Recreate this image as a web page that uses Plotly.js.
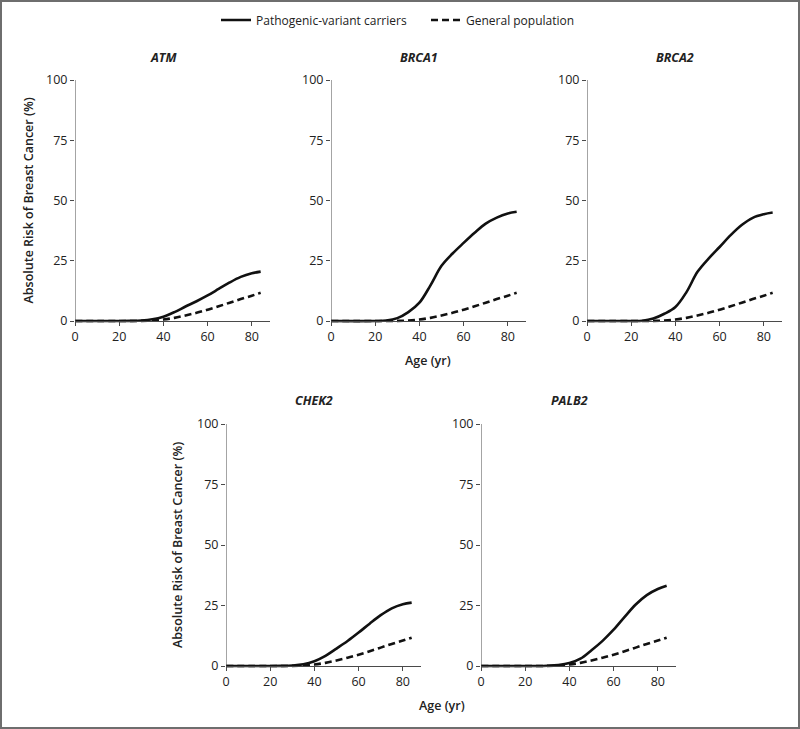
<!DOCTYPE html>
<html>
<head>
<meta charset="utf-8">
<script src="https://cdn.plot.ly/plotly-3.0.1.min.js"></script>
<style>
  html, body { margin: 0; padding: 0; background: #fff; }
  #frame { width: 796px; height: 725px; border: 2px solid #6e6e6e; }
  #chart { width: 796px; height: 725px; }
</style>
</head>
<body>
<div id="frame"><div id="chart"></div></div>
<script>
// ---- Data ----
const ages = [0, 20, 25, 30, 35, 40, 45, 50, 55, 60, 65, 70, 75, 80, 84];
const generalPopulation = [0, 0, 0, 0.05, 0.2, 0.6, 1.3, 2.3, 3.4, 4.7, 6.1, 7.6, 9.1, 10.5, 11.7];
const atm   = [0, 0, 0.05, 0.2, 0.7, 1.8, 3.7, 6.0, 8.2, 10.6, 13.3, 16.0, 18.3, 19.8, 20.5];
const brca1 = [0, 0, 0.2, 1.2, 3.7, 7.6, 14.8, 22.9, 28.0, 32.4, 36.6, 40.4, 42.9, 44.6, 45.3];
const brca2 = [0, 0, 0.1, 1.0, 3.0, 5.8, 12.0, 20.4, 25.9, 30.7, 35.6, 39.8, 42.8, 44.3, 45.0];
const chek2 = [0, 0, 0.05, 0.2, 0.7, 2.0, 4.2, 7.2, 10.3, 13.8, 17.5, 21.0, 23.8, 25.5, 26.2];
const palb2 = [0, 0, 0, 0.1, 0.4, 1.2, 3.0, 6.5, 10.4, 15.0, 20.3, 25.4, 29.3, 31.8, 33.2];

const genes = ["ATM", "BRCA1", "BRCA2", "CHEK2", "PALB2"];
const carrierSeries = [atm, brca1, brca2, chek2, palb2];
const xTicks = [0, 20, 40, 60, 80];
const yTicks = [0, 25, 50, 75, 100];
const legendNames = ["Pathogenic-variant carriers", "General population"];
const yTitle = "Absolute Risk of Breast Cancer (%)";
const xTitle = "Age (yr)";

// ---- Layout geometry (pixels within the 796x725 plot div) ----
const W = 796, H = 725;
const panelLeft = [73, 329, 585, 224, 479];
const panelWidth = 194.5;
const rows = [ {top: 78, zero: 319}, {top: 422, zero: 664} ];
const panelRow = [0, 0, 0, 1, 1];
const yMin = -1;

const FONT = "Open Sans, Noto Sans, sans-serif";
const axisColor = "#4a4a4a";
const textColor = "#222";

const traces = [];
const layout = {
  width: W, height: H,
  margin: {l: 0, r: 0, t: 0, b: 0},
  paper_bgcolor: "#fff", plot_bgcolor: "#fff",
  font: {family: FONT, size: 12, color: textColor},
  showlegend: true,
  legend: {
    orientation: "h", x: 214 / W, xanchor: "left", y: 1 - 18 / H, yanchor: "middle",
    font: {family: FONT, size: 12, color: textColor},
    itemwidth: 30, traceorder: "normal", tracegroupgap: 0,
    entrywidth: 165, entrywidthmode: "pixels"
  },
  annotations: [],
  shapes: []
};

genes.forEach((g, i) => {
  const n = i + 1;
  const xa = "x" + (n === 1 ? "" : n), ya = "y" + (n === 1 ? "" : n);
  const row = rows[panelRow[i]];
  const pxPerUnit = (row.zero - row.top) / 100;
  const bottomPx = row.zero - yMin * pxPerUnit;
  const xd = [panelLeft[i] / W, (panelLeft[i] + panelWidth) / W];
  const yd = [1 - bottomPx / H, 1 - row.top / H];

  layout["xaxis" + (n === 1 ? "" : n)] = {
    domain: xd, range: [0, 88], anchor: "free", position: 1 - row.zero / H,
    showline: true, linecolor: axisColor, linewidth: 1,
    ticks: "outside", ticklen: 4, tickcolor: axisColor, tickwidth: 1,
    tickvals: xTicks, ticktext: xTicks.map(String),
    tickfont: {family: FONT, size: 12.5, color: textColor},
    showgrid: false, zeroline: false, fixedrange: true
  };
  layout["yaxis" + (n === 1 ? "" : n)] = {
    domain: yd, range: [yMin, 100], anchor: xa,
    showline: false,
    ticks: "outside", ticklen: 4, tickcolor: axisColor, tickwidth: 1,
    tickvals: yTicks, ticktext: yTicks.map(String),
    tickfont: {family: FONT, size: 12.5, color: textColor},
    showgrid: false, zeroline: false, fixedrange: true
  };
  // y axis line from 0 to 100
  layout.shapes.push({type: "line", xref: xa, yref: ya, x0: 0, x1: 0, y0: 0, y1: 100,
    line: {color: axisColor, width: 1}});

  traces.push({
    x: ages, y: carrierSeries[i], xaxis: xa, yaxis: ya, type: "scatter", mode: "lines",
    line: {color: "#111", width: 2.6, shape: "spline", smoothing: 1},
    name: legendNames[0], legendgroup: "c", showlegend: i === 0, hoverinfo: "skip"
  });
  traces.push({
    x: ages, y: generalPopulation, xaxis: xa, yaxis: ya, type: "scatter", mode: "lines",
    line: {color: "#111", width: 2.6, dash: "7px,4px", shape: "spline", smoothing: 1},
    name: legendNames[1], legendgroup: "g", showlegend: i === 0, hoverinfo: "skip"
  });

  // panel title (gene name)
  layout.annotations.push({
    text: "<b><i>" + g + "</i></b>", xref: xa, yref: "paper", x: 40,
    y: 1 - (row.top - 23) / H, yanchor: "middle", xanchor: "center", showarrow: false,
    font: {family: FONT, size: 12.5, color: textColor}
  });
});

// y axis titles (ATM and CHEK2 panels)
[[26, (78 + 319) / 2], [175, (422 + 664) / 2]].forEach(p => {
  layout.annotations.push({
    text: yTitle, xref: "paper", yref: "paper", x: p[0] / W, y: 1 - p[1] / H,
    xanchor: "center", yanchor: "middle", textangle: -90, showarrow: false,
    font: {family: FONT, size: 12.5, color: textColor, weight: 600}
  });
});
// x axis titles
[[426, 358], [440, 703]].forEach(p => {
  layout.annotations.push({
    text: xTitle, xref: "paper", yref: "paper", x: p[0] / W, y: 1 - p[1] / H,
    xanchor: "center", yanchor: "middle", showarrow: false,
    font: {family: FONT, size: 12.5, color: textColor, weight: 600}
  });
});

Plotly.newPlot("chart", traces, layout, {displayModeBar: false, staticPlot: true});
</script>
</body>
</html>
